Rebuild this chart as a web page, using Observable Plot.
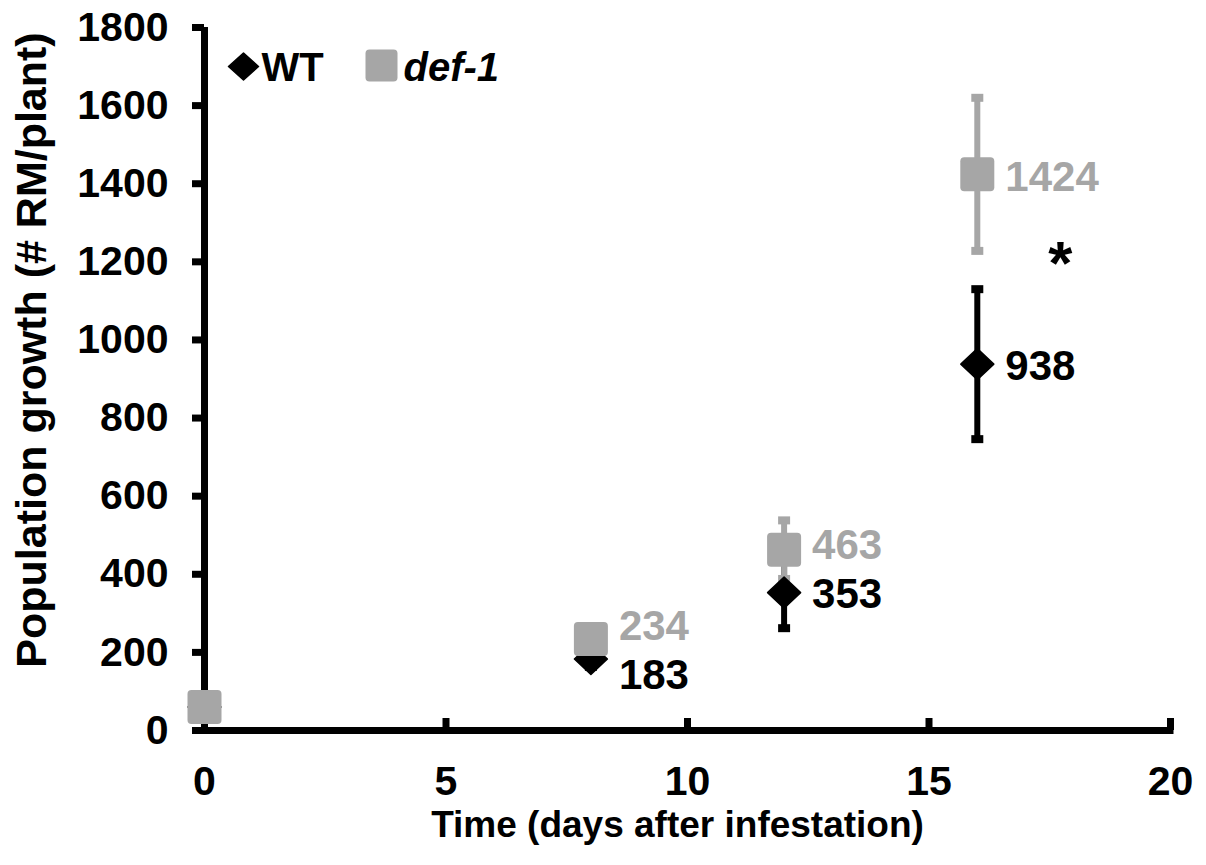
<!DOCTYPE html>
<html>
<head>
<meta charset="utf-8">
<script src="https://cdn.jsdelivr.net/npm/d3@7"></script>
<script src="https://cdn.jsdelivr.net/npm/@observablehq/plot@0.6"></script>
<style>
  html, body { margin: 0; padding: 0; background: #fff; }
  #chart { width: 1206px; height: 865px; }
</style>
</head>
<body>
<div id="chart"></div>
<script>
// ---- data ----
const days = [0, 8, 12, 16];
const wtMean = [60, 183, 353, 938];
const wtSE = [10, 20, 91, 192];
const defMean = [60, 234, 463, 1424];
const defSE = [10, 30, 75, 196];
const seriesNames = ["WT", "def-1"];
const xTicks = [0, 5, 10, 15, 20];
const yTicks = [0, 200, 400, 600, 800, 1000, 1200, 1400, 1600, 1800];
const significance = [{day: 17.72, count: 1195, text: "*"}];
const xTitle = "Time (days after infestation)";
const yTitle = "Population growth (# RM/plant)";

// ---- build tables ----
const wt = days.map((d, i) => ({day: d, mean: wtMean[i], se: wtSE[i]}));
const def = days.map((d, i) => ({day: d, mean: defMean[i], se: defSE[i]}));

const BLACK = "#000000";
const GRAY = "#a6a6a6";
const FONT = "'Liberation Sans', Arial, Helvetica, sans-serif";

// custom symbols
function roundSquare(half, r) {
  return {draw(ctx) {
    ctx.moveTo(-half + r, -half);
    ctx.lineTo(half - r, -half);
    ctx.arcTo(half, -half, half, -half + r, r);
    ctx.lineTo(half, half - r);
    ctx.arcTo(half, half, half - r, half, r);
    ctx.lineTo(-half + r, half);
    ctx.arcTo(-half, half, -half, half - r, r);
    ctx.lineTo(-half, -half + r);
    ctx.arcTo(-half, -half, -half + r, -half, r);
    ctx.closePath();
  }};
}
function diamond(w, h) {
  return {draw(ctx) {
    ctx.moveTo(0, -h);
    ctx.lineTo(w, 0);
    ctx.lineTo(0, h);
    ctx.lineTo(-w, 0);
    ctx.closePath();
  }};
}
function capRect(w, h) {
  return {draw(ctx) {
    ctx.moveTo(-w, -h);
    ctx.lineTo(w, -h);
    ctx.lineTo(w, h);
    ctx.lineTo(-w, h);
    ctx.closePath();
  }};
}

const dataDiamond = diamond(16.5, 15.5);
const dataSquare = roundSquare(17, 4);
const legendDiamond = diamond(15, 13.5);
const legendSquare = roundSquare(16, 4);
const cap = capRect(6, 4);

function errorMarks(rows, color) {
  return [
    Plot.ruleX(rows, {x: "day", y1: d => d.mean - d.se, y2: d => d.mean + d.se, stroke: color, strokeWidth: 6}),
    Plot.dot(rows, {x: "day", y: d => d.mean + d.se, symbol: cap, fill: color, stroke: "none", r: 5}),
    Plot.dot(rows, {x: "day", y: d => d.mean - d.se, symbol: cap, fill: color, stroke: "none", r: 5})
  ];
}

function labelMark(rows, color, dy) {
  return Plot.text(rows, {
    x: "day", y: "mean", text: d => String(d.mean),
    fill: color, fontSize: 42, fontWeight: "bold", textAnchor: "start", lineAnchor: "middle",
    dx: 28, dy
  });
}

const chart = Plot.plot({
  width: 1206,
  height: 865,
  marginLeft: 204,
  marginRight: 36,
  marginTop: 27,
  marginBottom: 135,
  style: {fontFamily: FONT, fontWeight: "bold", background: "#fff", color: BLACK},
  x: {domain: [0, 20]},
  y: {domain: [0, 1800]},
  marks: [
    // axes
    Plot.axisY({ticks: yTicks, tickSize: 12, tickPadding: 24, strokeWidth: 7, fontSize: 41,
      fontWeight: "bold", tickFormat: d => String(d), label: null, fill: BLACK, stroke: BLACK}),
    Plot.axisX({ticks: xTicks, tickSize: 0, tickPadding: 35, fontSize: 41,
      fontWeight: "bold", tickFormat: d => String(d), label: null, fill: BLACK}),
    Plot.tickX(xTicks, {x: d => d, stroke: BLACK, strokeWidth: 7, insetTop: 691}),
    Plot.ruleX([0], {stroke: BLACK, strokeWidth: 7}),
    Plot.ruleY([0], {stroke: BLACK, strokeWidth: 7, strokeLinecap: "square"}),
    // error bars
    ...errorMarks(wt, BLACK),
    ...errorMarks(def, GRAY),
    // markers
    Plot.dot(wt, {x: "day", y: "mean", symbol: dataDiamond, r: 17, fill: BLACK, stroke: BLACK,
      strokeWidth: 1.5, strokeLinejoin: "round"}),
    Plot.dot(def, {x: "day", y: "mean", symbol: dataSquare, r: 17, fill: GRAY, stroke: "none"}),
    // value labels
    labelMark(def.filter(d => d.day === 8), GRAY, -13),
    labelMark(def.filter(d => d.day === 12), GRAY, -4),
    labelMark(def.filter(d => d.day === 16), GRAY, 3),
    labelMark(wt.filter(d => d.day === 8), BLACK, 17),
    labelMark(wt.filter(d => d.day > 8), BLACK, 2),
    // significance
    Plot.text(significance, {x: "day", y: "count", text: "text", fontSize: 62, fontWeight: "bold",
      fill: BLACK, lineAnchor: "middle"}),
    // legend
    Plot.dot([seriesNames[0]], {frameAnchor: "top-left", dx: 39, dy: 39, symbol: legendDiamond, r: 15,
      fill: BLACK, stroke: BLACK, strokeWidth: 1.5, strokeLinejoin: "round"}),
    Plot.text([seriesNames[0]], {frameAnchor: "top-left", dx: 57, dy: 41, text: d => d, textAnchor: "start",
      lineAnchor: "middle", fontSize: 40, fontWeight: "bold", fill: BLACK}),
    Plot.dot([seriesNames[1]], {frameAnchor: "top-left", dx: 177, dy: 38, symbol: legendSquare, r: 16,
      fill: GRAY, stroke: "none"}),
    Plot.text([seriesNames[1]], {frameAnchor: "top-left", dx: 199, dy: 41, text: d => d, textAnchor: "start",
      lineAnchor: "middle", fontSize: 40, fontWeight: "bold", fontStyle: "italic", fill: BLACK}),
    // axis titles
    Plot.text([xTitle], {frameAnchor: "bottom", dx: -10, dy: 106, text: d => d, lineAnchor: "bottom",
      textAnchor: "middle", fontSize: 37, fontWeight: "bold", fill: BLACK}),
    Plot.text([yTitle], {frameAnchor: "left", dx: -159, dy: -29, text: d => d, rotate: -90, lineAnchor: "bottom",
      textAnchor: "middle", fontSize: 43, fontWeight: "bold", fill: BLACK})
  ]
});

document.getElementById("chart").appendChild(chart);
</script>
</body>
</html>
